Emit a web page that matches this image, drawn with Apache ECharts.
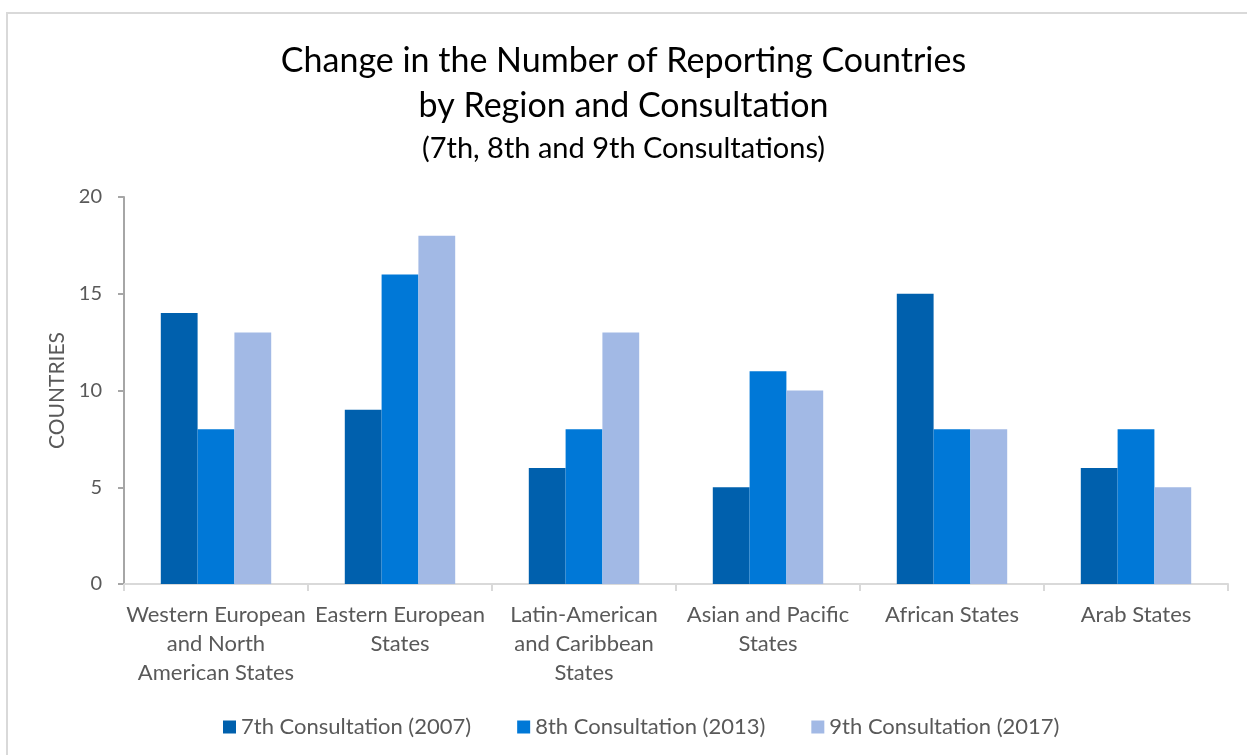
<!DOCTYPE html>
<html>
<head>
<meta charset="utf-8">
<script src="https://cdn.jsdelivr.net/npm/echarts@6/dist/echarts.min.js"></script>
<style>
  html, body { margin: 0; padding: 0; background: #fff; }
  #main { width: 1247px; height: 755px; }
</style>
</head>
<body>
<div id="main"></div>
<script>
var regions = [
  'Western European\nand North\nAmerican States',
  'Eastern European\nStates',
  'Latin-American\nand Caribbean\nStates',
  'Asian and Pacific\nStates',
  'African States',
  'Arab States'
];
var seriesNames = ['7th Consultation (2007)', '8th Consultation (2013)', '9th Consultation (2017)'];
var consult7 = [14, 9, 6, 5, 15, 6];
var consult8 = [8, 16, 8, 11, 8, 8];
var consult9 = [13, 18, 13, 10, 8, 5];

var colors = ['#0060AD', '#0078D7', '#A2B9E5'];
var font = 'Lato, "Noto Sans", sans-serif';

var myChart = echarts.init(document.getElementById('main'));
var option = {
    color: colors,
    textStyle: { fontFamily: font },
    title: {
        text: 'Change in the Number of Reporting Countries\nby Region and Consultation',
        subtext: '(7th, 8th and 9th Consultations)',
        left: 'center',
        top: 34,
        itemGap: 4,
        textStyle: { color: '#000', fontSize: 34, fontWeight: 'normal', lineHeight: 45, fontFamily: font },
        subtextStyle: { color: '#000', fontSize: 29, lineHeight: 32, fontFamily: font }
    },
    graphic: [{
        type: 'rect',
        shape: { x: 7, y: 13, width: 1300, height: 800 },
        style: { fill: 'none', stroke: '#D9D9D9', lineWidth: 2 },
        silent: true
    }],
    legend: {
        data: seriesNames,
        bottom: 12,
        left: 218,
        itemWidth: 13,
        itemHeight: 13,
        itemGap: 46,
        icon: 'rect',
        textStyle: { color: '#595959', fontSize: 22, fontFamily: font }
    },
    grid: { left: 124, right: 19, top: 197, bottom: 171 },
    xAxis: {
        type: 'category',
        data: regions,
        axisLine: { lineStyle: { color: '#D9D9D9', width: 2 } },
        axisTick: { show: true, alignWithLabel: false, length: 7, lineStyle: { color: '#D9D9D9', width: 2 } },
        axisLabel: { color: '#595959', fontSize: 22, lineHeight: 29, margin: 16, interval: 0 }
    },
    yAxis: {
        type: 'value',
        min: 0,
        max: 20,
        interval: 5,
        name: 'COUNTRIES',
        nameLocation: 'middle',
        nameGap: 56,
        nameTextStyle: { color: '#595959', fontSize: 21 },
        axisLine: { show: true, lineStyle: { color: '#A6A6A6', width: 2 } },
        axisTick: { show: true, length: 6, lineStyle: { color: '#A6A6A6', width: 2 } },
        axisLabel: { color: '#595959', fontSize: 20, margin: 22 },
        splitLine: { show: false }
    },
    series: [
        { name: seriesNames[0], type: 'bar', data: consult7, barGap: '0%', barCategoryGap: '40%' },
        { name: seriesNames[1], type: 'bar', data: consult8, barGap: '0%', barCategoryGap: '40%' },
        { name: seriesNames[2], type: 'bar', data: consult9, barGap: '0%', barCategoryGap: '40%' }
    ]
};
myChart.setOption(option);
</script>
</body>
</html>
